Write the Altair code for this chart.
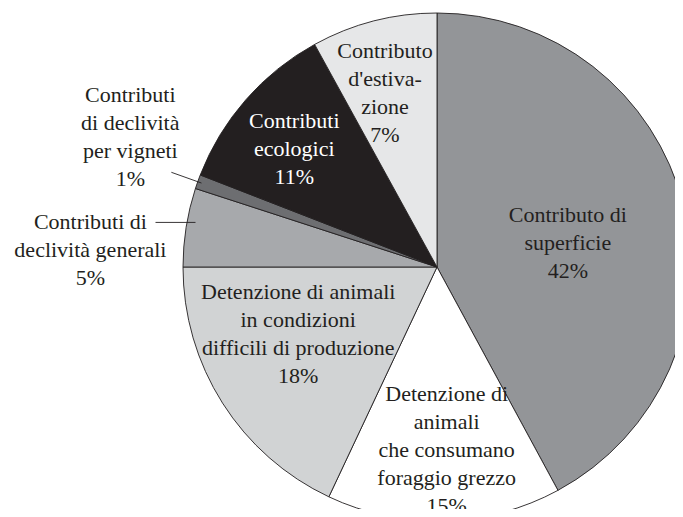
import numpy as np
import pandas as pd
import altair as alt

# ---- data ----
names = [
    "Contributo di superficie",
    "Detenzione di animali che consumano foraggio grezzo",
    "Detenzione di animali in condizioni difficili di produzione",
    "Contributi di declività generali",
    "Contributi di declività per vigneti",
    "Contributi ecologici",
    "Contributo d'estivazione",
]
values = [42.1, 14.9, 18.0, 5.0, 0.9, 11.1, 8.0]
labels = [
    "Contributo di\nsuperficie\n42%",
    "Detenzione di\nanimali\nche consumano\nforaggio grezzo\n15%",
    "Detenzione di animali\nin condizioni\ndifficili di produzione\n18%",
    "Contributi di\ndeclività generali\n5%",
    "Contributi\ndi declività\nper vigneti\n1%",
    "Contributi\necologici\n11%",
    "Contributo\nd'estiva-\nzione\n7%",
]

# ---- styling / layout ----
colors = ["#939598", "#ffffff", "#d1d3d4", "#a7a9ac", "#6d6e71", "#231f20", "#e6e7e8"]
text_colors = ["#231f20", "#231f20", "#231f20", "#231f20", "#231f20", "#ffffff", "#231f20"]
label_nudge_deg = [3.8, -1.4, 6.7, -6.2, 3.3, -1.7, -2.2]
label_radius = [133, 183, 154, 347, 333, 185, 182]
LH = 28
FS = 22

CX, CY, R = 429, 259, 254
W, H = 667, 501

df = pd.DataFrame({"name": names, "value": values, "order": list(range(len(names)))})
total = df["value"].sum()
start = df["value"].cumsum() - df["value"]
mid_rad = (start + df["value"] / 2) / total * 2 * np.pi

lab_theta = mid_rad + np.deg2rad(label_nudge_deg)
nlines = np.array([len(s.split("\n")) for s in labels])
lab = pd.DataFrame({
    "label": labels,
    "x": CX + np.array(label_radius) * np.sin(lab_theta),
    "y": CY - np.array(label_radius) * np.cos(lab_theta) - (nlines - 1) / 2 * LH,
    "tcolor": text_colors,
})

# leader lines for the two outside labels (generali: horizontal, vigneti: radial)
lead_rows = []
for idx, (r_out, r_in, horiz) in {3: (285, 245, True), 4: (282, 250, False)}.items():
    a = mid_rad[idx]
    x1 = CX + r_out * np.sin(a)
    y1 = CY - r_out * np.cos(a)
    if horiz:
        x2, y2 = x1 + (r_out - r_in), y1
    else:
        x2 = CX + r_in * np.sin(a)
        y2 = CY - r_in * np.cos(a)
    lead_rows.append({"x": x1, "y": y1, "x2": x2, "y2": y2})
leads = pd.DataFrame(lead_rows)

pie = alt.Chart(df).mark_arc(
    radius=R, stroke="#231f20", strokeWidth=0.9
).encode(
    theta=alt.Theta("value:Q", stack=True),
    order=alt.Order("order:Q"),
    color=alt.Color("name:N", scale=alt.Scale(domain=names, range=colors), legend=None),
    x=alt.value(CX),
    y=alt.value(CY),
)

text = alt.Chart(lab).mark_text(
    font="Liberation Serif", fontSize=FS, lineBreak="\n", lineHeight=LH,
    align="center", baseline="middle",
).encode(
    x=alt.X("x:Q", scale=None),
    y=alt.Y("y:Q", scale=None),
    text="label:N",
    color=alt.Color("tcolor:N", scale=None),
)

leaders = alt.Chart(leads).mark_rule(color="#231f20", strokeWidth=0.9).encode(
    x=alt.X("x:Q", scale=None),
    y=alt.Y("y:Q", scale=None),
    x2="x2:Q",
    y2="y2:Q",
)

chart = alt.layer(pie, leaders, text).properties(
    width=W, height=H, padding=0,
    autosize=alt.AutoSizeParams(type="none"),
).configure_view(stroke=None)

chart.save("out.html", embed_options={"renderer": "svg", "actions": False})
